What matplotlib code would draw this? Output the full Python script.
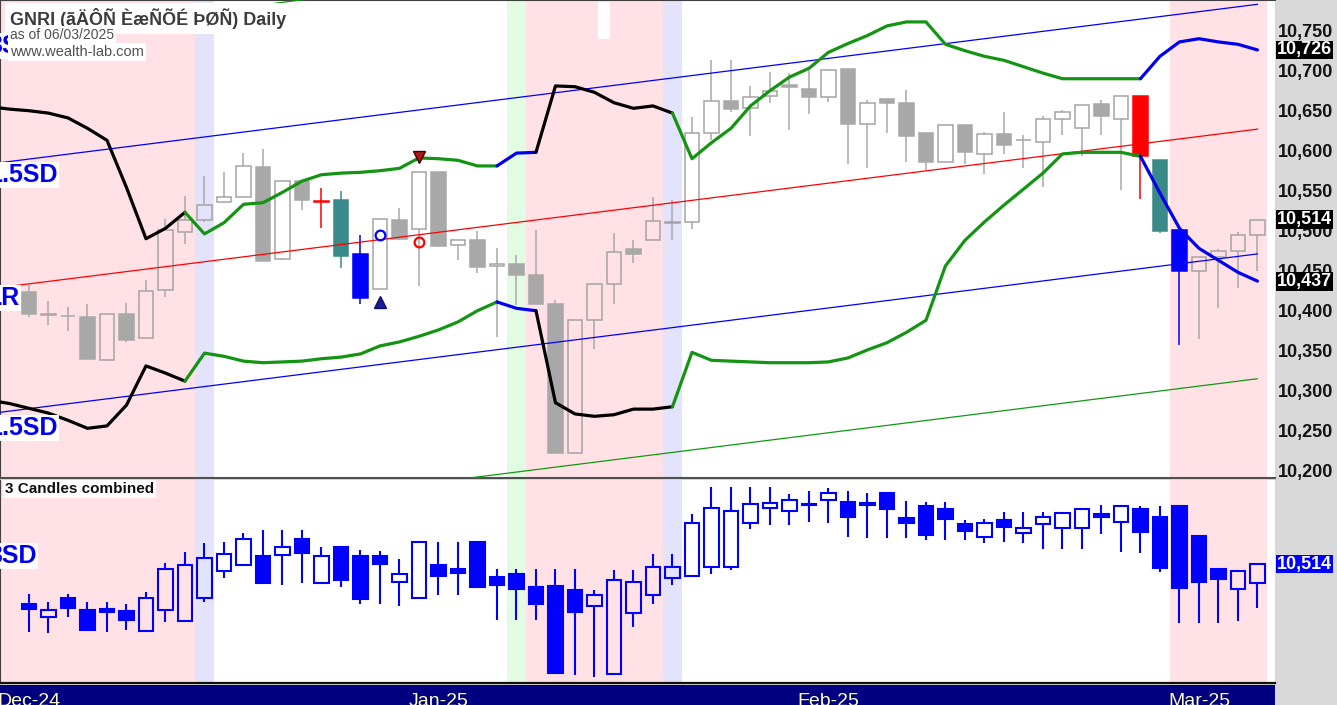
import matplotlib
matplotlib.use('Agg')
import matplotlib.pyplot as plt
from matplotlib.patches import Rectangle
from matplotlib.transforms import blended_transform_factory

plt.rcParams['font.family'] = ['Liberation Sans', 'DejaVu Sans']

# ---------------- data ----------------
top_open  = [10424,10396,10394,10392,10338,10396,10366,10426,10499,10513,
             10536,10542,10580,10465,10562,10537,10538,10471,10427,10514,
             10502,10574,10482,10489,10456,10459,10445,10408,10222,10388,
             10433,10477,10488,10510,10511,10622,10662,10653,10669,10682,
             10677,10667,10702,10633,10665,10660,10622,10586,10632,10596,
             10621,10613,10611,10640,10628,10658,10640,10668,10589,10501,
             10450,10467,10475,10495]
top_high  = [10432,10412,10405,10409,10396,10410,10439,10515,10544,10568,
             10574,10597,10602,10562,10562,10553,10550,10495,10515,10528,
             10574,10574,10489,10500,10478,10470,10501,10413,10388,10433,
             10497,10489,10542,10539,10642,10714,10714,10681,10698,10697,
             10701,10701,10702,10663,10665,10676,10622,10632,10632,10623,
             10649,10620,10643,10651,10657,10664,10668,10668,10589,10501,
             10467,10477,10498,10514]
top_low   = [10392,10382,10375,10340,10337,10361,10366,10417,10484,10511,
             10536,10542,10462,10464,10526,10504,10453,10408,10427,10488,
             10431,10480,10463,10447,10367,10407,10408,10222,10222,10352,
             10408,10460,10488,10489,10502,10613,10649,10618,10660,10626,
             10646,10661,10584,10579,10622,10586,10576,10586,10584,10571,
             10596,10579,10555,10620,10593,10620,10551,10540,10497,10357,
             10365,10403,10429,10450]
top_close = [10396,10395,10393,10340,10396,10363,10425,10501,10513,10532,
             10542,10581,10462,10562,10539,10536,10468,10416,10515,10490,
             10574,10481,10489,10455,10459,10445,10408,10222,10388,10433,
             10474,10471,10512,10511,10622,10662,10652,10667,10675,10680,
             10667,10701,10633,10660,10660,10618,10586,10632,10598,10621,
             10607,10614,10640,10649,10657,10643,10668,10594,10500,10450,
             10467,10475,10495,10514]
# bars painted with a signal colour
special_bars = {15: '#ff0000', 16: '#3a8a8a', 17: '#0000ff',
                57: '#ff0000', 58: '#3a8a8a', 59: '#0000ff'}

# lower pane: "3 Candles combined"
low_open  = [10410,10374,10425,10393,10395,10390,10338,10393,10365,10424,
             10496,10511,10535,10538,10579,10463,10560,10535,10535,10467,
             10425,10511,10500,10571,10481,10488,10453,10456,10446,10404,
             10224,10386,10432,10476,10483,10507,10507,10621,10662,10653,
             10669,10682,10678,10674,10701,10636,10667,10659,10618,10586,
             10630,10595,10618,10609,10609,10645,10625,10658,10638,10667,
             10588,10501,10448,10465]
low_high  = [10434,10415,10434,10415,10415,10410,10440,10516,10546,10568,
             10571,10596,10603,10603,10603,10560,10560,10551,10548,10527,
             10571,10573,10573,10571,10500,10500,10500,10500,10500,10446,
             10498,10498,10540,10540,10645,10717,10717,10717,10717,10697,
             10706,10715,10706,10701,10701,10680,10678,10678,10630,10632,
             10650,10650,10650,10650,10658,10669,10667,10667,10667,10667,
             10588,10501,10496,10516]
low_low   = [10336,10333,10374,10340,10336,10340,10338,10361,10365,10415,
             10478,10511,10463,10459,10463,10463,10454,10409,10409,10404,
             10425,10432,10432,10450,10367,10367,10367,10227,10222,10218,
             10224,10349,10409,10459,10483,10487,10498,10605,10617,10617,
             10624,10621,10586,10582,10582,10582,10577,10577,10577,10568,
             10573,10568,10553,10553,10553,10593,10546,10542,10494,10360,
             10360,10360,10364,10399]
low_close = [10396,10393,10397,10340,10388,10368,10425,10500,10511,10531,
             10540,10579,10463,10560,10544,10535,10472,10421,10514,10488,
             10571,10483,10491,10454,10459,10447,10408,10227,10389,10432,
             10472,10467,10507,10507,10621,10662,10653,10671,10674,10682,
             10671,10701,10637,10668,10660,10621,10590,10632,10602,10623,
             10611,10609,10638,10647,10658,10638,10667,10597,10503,10452,
             10467,10475,10496,10514]

# envelope bands (bar index -2 .. 63)
band_bars = list(range(-2, 64))
upper_band = [10655,10652,10650,10647,10641,10628,10613,10554,10490,10503,
              10523,10496,10510,10533,10535,10548,10562,10570,10572,10573,
              10575,10578,10591,10590,10588,10581,10581,10597,10598,10681,
              10680,10673,10660,10653,10656,10647,10590,10610,10628,10656,
              10675,10692,10703,10723,10734,10744,10756,10761,10761,10733,
              10725,10718,10713,10705,10697,10690,10690,10690,10690,10690,
              10718,10736,10740,10736,10733,10726]
lower_band = [10288,10284,10278,10272,10263,10253,10256,10282,10331,10322,
              10312,10347,10343,10337,10335,10336,10337,10340,10342,10346,
              10356,10361,10368,10376,10386,10400,10411,10403,10400,10285,
              10271,10268,10270,10277,10277,10280,10348,10338,10337,10336,
              10335,10335,10335,10336,10341,10351,10360,10373,10388,10456,
              10488,10511,10532,10552,10572,10596,10598,10598,10598,10593,
              10547,10503,10478,10463,10448,10437]
band_segments = [(-2, 8, 'black'), (8, 24, 'green'), (24, 26, 'blue'),
                 (26, 33, 'black'), (33, 57, 'green'), (57, 63, 'blue')]

# linear regression channel
lr_bars = [-1.49, 63]
lr_vals = [10429, 10627]
lr_sd = 104

# background shading (bar ranges)
shading = [(-2, 8.5, 'pink'), (8.5, 9.5, 'lav'), (24.5, 25.5, 'green'),
           (25.5, 32.5, 'pink'), (32.5, 33.5, 'lav'), (58.5, 63.5, 'pink')]

# signal markers
circle_bars = [18, 20]
circle_vals = [10495, 10486]
circle_cols = ['#0000ff', '#ff0000']
tri_up = ([18], [10411])
tri_dn = ([20], [10592])

yticks = list(range(10200, 10751, 50))
top_value_labels = [10726, 10514, 10437]
low_value_label = 10514
month_bars = [0, 21, 41, 60]
month_labels = ['Dec-24', 'Jan-25', 'Feb-25', 'Mar-25']

# ---------------- styles ----------------
W, H = 1337, 705
GRAYBG = '#d9d9d9'
SHADE = {'pink': '#ffe1e6', 'lav': '#e3e3fb', 'green': '#e2fbe2'}
BANDC = {'black': '#000000', 'green': '#139413', 'blue': '#0000ee'}
XLIM = (-1.487, 63.9)

fig = plt.figure(figsize=(W / 100, H / 100), dpi=100)
fig.patch.set_facecolor(GRAYBG)


def pxbox(x0, y0, x1, y1):
    return [x0 / W, 1 - y1 / H, (x1 - x0) / W, (y1 - y0) / H]


def ftext(x, y, s, **kw):
    return fig.text(x / W, 1 - y / H, s, **kw)


ax = fig.add_axes(pxbox(0, 0, 1275, 478))
axl = fig.add_axes(pxbox(0, 480, 1275, 683))
axd = fig.add_axes(pxbox(0, 685, 1275, 705))

for a in (ax, axl):
    a.set_facecolor('white')
    a.set_xlim(*XLIM)
    a.set_xticks([])
    for s0, s1, c in shading:
        a.axvspan(s0, s1, color=SHADE[c], lw=0, zorder=0)

ax.set_ylim(10190.9, 10788.4)
axl.set_ylim(10201, 10735)

for sp in ax.spines.values():
    sp.set_color('#404040')
ax.spines['right'].set_visible(False)
ax.spines['bottom'].set_linewidth(1.5)
ax.spines['bottom'].set_color('#505050')
axl.spines['right'].set_visible(False)
axl.spines['top'].set_visible(False)
axl.spines['left'].set_color('#404040')
axl.spines['bottom'].set_color('#101010')
axl.spines['bottom'].set_linewidth(1.6)

ax.yaxis.tick_right()
ax.set_yticks(yticks)
ax.set_yticklabels([f'{v:,}' for v in yticks])
ax.tick_params(axis='y', length=0, pad=2, labelsize=13, labelcolor='#141414')
for lab in ax.get_yticklabels():
    lab.set_fontweight('bold')
axl.set_yticks([])


def candles(a, o, h, l, c, width, up_col, dn_face, dn_edge, wick_col, lw,
            specials=None, zorder=2):
    specials = specials or {}
    for i in range(len(o)):
        top, bot = max(o[i], c[i]), min(o[i], c[i])
        col = specials.get(i)
        if col is not None or c[i] < o[i]:
            fc = col or dn_face
            ec = col or dn_edge
            wc = col or wick_col
            a.vlines(i, l[i], h[i], color=wc, lw=lw, zorder=zorder)
            a.add_patch(Rectangle((i - width / 2, bot), width, top - bot,
                                  facecolor=fc, edgecolor=ec, lw=lw,
                                  zorder=zorder + 0.1))
        else:
            if h[i] > top:
                a.vlines(i, top, h[i], color=wick_col, lw=lw, zorder=zorder)
            if l[i] < bot:
                a.vlines(i, l[i], bot, color=wick_col, lw=lw, zorder=zorder)
            a.add_patch(Rectangle((i - width / 2, bot), width, top - bot,
                                  facecolor='none', edgecolor=up_col, lw=lw,
                                  zorder=zorder + 0.1))


candles(ax, top_open, top_high, top_low, top_close, 0.76,
        '#a4a4a4', '#a8a8a8', '#a8a8a8', '#a8a8a8', 1.1,
        specials=special_bars)
candles(axl, low_open, low_high, low_low, low_close, 0.76,
        '#0000ff', '#0000ff', '#0000ff', '#0000ff', 1.5)

# regression channel
ax.plot(lr_bars, lr_vals, color='#ff0000', lw=0.9, zorder=3)
for k, col in ((1.5, '#0000ff'), (-1.5, '#0000ff'), (3, '#109a10'), (-3, '#109a10')):
    ax.plot(lr_bars, [v + k * lr_sd for v in lr_vals], color=col, lw=0.9, zorder=3)

# bands
for s0, s1, c in band_segments:
    i0, i1 = s0 + 2, s1 + 2
    for band in (upper_band, lower_band):
        ax.plot(band_bars[i0:i1 + 1], band[i0:i1 + 1], color=BANDC[c], lw=2.3,
                solid_capstyle='round', solid_joinstyle='round', zorder=4)

# markers
for b, v, col in zip(circle_bars, circle_vals, circle_cols):
    ax.plot([b], [v], 'o', mfc='none', mec=col, ms=7, mew=1.6, zorder=5)
ax.plot(tri_up[0], tri_up[1], '^', color='#1a1a9a', mec='#101060', ms=8, zorder=5)
ax.plot(tri_dn[0], tri_dn[1], 'v', color='#b01818', mec='#400000', ms=8, zorder=5)

# small white mark at top of pane
ax.add_patch(Rectangle((29.2, 1 - 39 / 478), 0.6, 37 / 478, facecolor='white',
                       edgecolor='none', zorder=1,
                       transform=blended_transform_factory(ax.transData, ax.transAxes)))

# last-value labels on the price axis
for v in top_value_labels:
    ax.annotate(f'{v:,}', xy=(1, v), xycoords=('axes fraction', 'data'),
                xytext=(2, 0), textcoords='offset pixels', ha='left', va='center',
                fontsize=13, fontweight='bold', color='white', annotation_clip=False,
                bbox=dict(boxstyle='square,pad=0.05', fc='black', ec='none'), zorder=10)
axl.annotate(f'{low_value_label:,}', xy=(1, low_value_label),
             xycoords=('axes fraction', 'data'), xytext=(2, 0),
             textcoords='offset pixels', ha='left', va='center', fontsize=13,
             fontweight='bold', color='white', annotation_clip=False,
             bbox=dict(boxstyle='square,pad=0.05', fc='#0000ff', ec='none'), zorder=10)

# date band
axd.set_facecolor('#000080')
axd.set_xlim(*XLIM)
axd.set_ylim(0, 1)
axd.set_xticks([])
axd.set_yticks([])
for sp in axd.spines.values():
    sp.set_visible(False)
for b, s in zip(month_bars, month_labels):
    t = axd.text(b, 0.6, s, ha='center', va='top', color='#ffffc8', fontsize=14,
                 family=['Liberation Sans Narrow', 'Liberation Sans'])
    t.set_clip_on(True)

# channel labels (partly cut off at the left edge)
lab_kw = dict(ha='right', va='center', fontsize=18, fontweight='bold', color='#0000ee',
              zorder=4, bbox=dict(boxstyle='square,pad=0.05', fc='white', ec='none'))
ftext(37, 46, '3SD', **lab_kw)
ftext(58, 175, '1.5SD', **lab_kw)
ftext(20, 298, 'LR', **lab_kw)
ftext(58, 428, '1.5SD', **lab_kw)
ftext(37, 556, '3SD', **lab_kw)

# header texts
hdr_box = dict(boxstyle='square,pad=0.12', fc='white', ec='none')
ftext(10, 25, 'GNRI (ãÄÔÑ ÈæÑÕÉ ÞØÑ) Daily', ha='left', va='baseline', fontsize=13,
      fontweight='bold', color='#3c3c3c', zorder=6,
      bbox=dict(boxstyle='square,pad=0.3', fc='white', ec='none'))
ftext(10, 39, 'as of 06/03/2025', ha='left', va='baseline', fontsize=10,
      color='#505050', zorder=6, bbox=hdr_box)
ftext(10, 56, 'www.wealth-lab.com', ha='left', va='baseline', fontsize=10.5,
      color='#505050', zorder=6, bbox=hdr_box)
ftext(5, 489, '3 Candles combined', ha='left', va='center', fontsize=11,
      fontweight='bold', color='#101010', zorder=6,
      bbox=dict(boxstyle='square,pad=0.1', fc='white', ec='none'))

fig.savefig('out.png', dpi=100)
